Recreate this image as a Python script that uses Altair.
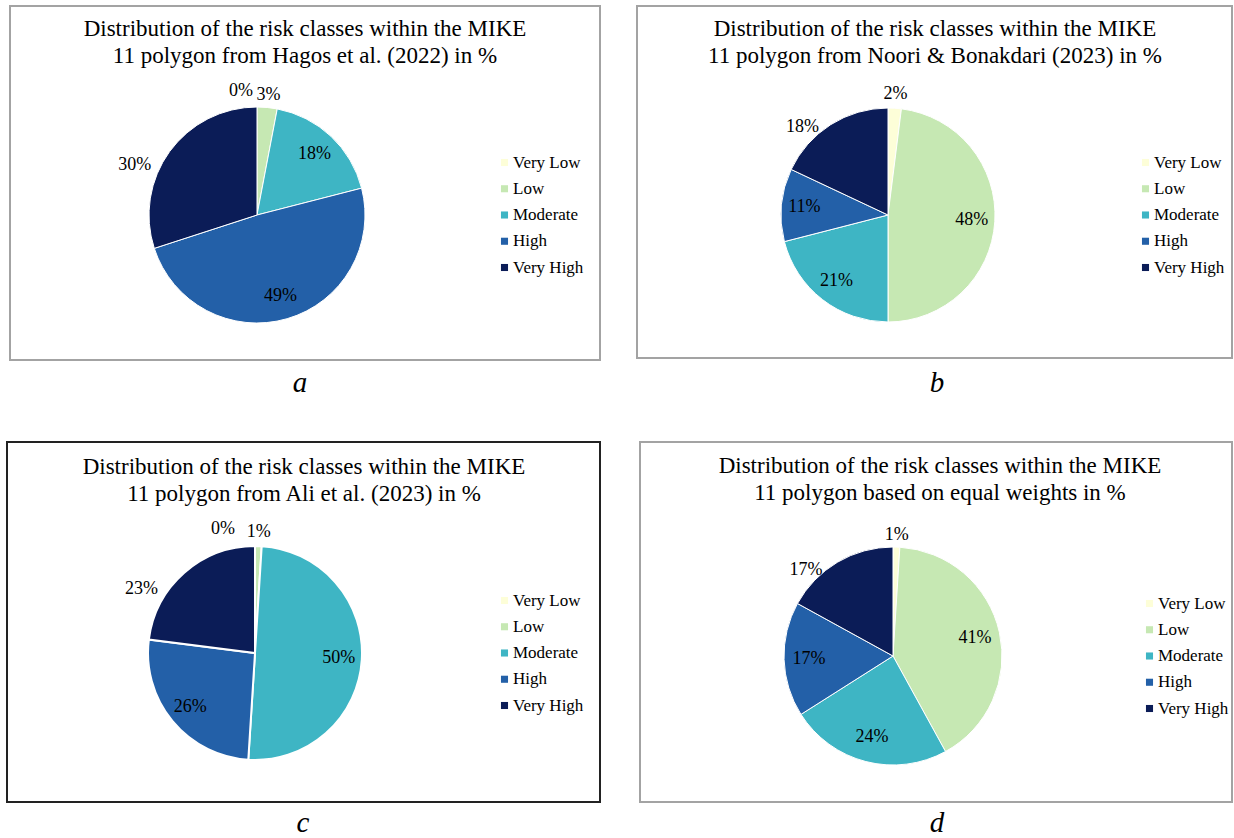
import altair as alt
import pandas as pd

# Risk classes and their fill colours (yellow-green-blue ramp)
CLASSES = ["Very Low", "Low", "Moderate", "High", "Very High"]
COLORS = ["#fdfed8", "#c6e8b3", "#3eb5c4", "#2360a8", "#0b1c57"]

# Share of the MIKE 11 polygon in each risk class, in %
share_hagos = [0, 3, 18, 49, 30]
share_noori = [2, 48, 21, 11, 18]
share_ali = [0, 1, 50, 26, 23]
share_equal = [1, 41, 24, 17, 17]

TITLE_LINE_1 = "Distribution of the risk classes within the MIKE"
subtitle_hagos = "11 polygon from Hagos et al. (2022) in %"
subtitle_noori = "11 polygon from Noori & Bonakdari (2023) in %"
subtitle_ali = "11 polygon from Ali et al. (2023) in %"
subtitle_equal = "11 polygon based on equal weights in %"

letters = ["a", "b", "c", "d"]

CELL_W, CELL_H = 617, 419
SERIF = "Liberation Serif"


def panel(shares, subtitle, letter, lay):
    df = pd.DataFrame({"cls": CLASSES, "share": shares, "rank": list(range(len(CLASSES)))})
    df["label"] = [f"{v}%" for v in shares]
    cx, cy = lay["center"]
    r = lay["radius"]

    base = alt.Chart(df).encode(
        theta=alt.Theta("share:Q", stack=True),
        order=alt.Order("rank:Q"),
        x=alt.value(cx),
        y=alt.value(cy),
    )

    arcs = base.mark_arc(outerRadius=r, stroke="white", strokeWidth=lay["sep"]).encode(
        color=alt.Color(
            "cls:N",
            scale=alt.Scale(domain=CLASSES, range=COLORS),
            legend=alt.Legend(
                orient="none",
                legendX=lay["legend"][0],
                legendY=lay["legend"][1],
                title=None,
                symbolType="square",
                symbolSize=50,
                symbolStrokeWidth=0,
                labelFont=SERIF,
                labelFontSize=17,
                labelColor="black",
                labelOffset=0,
                rowPadding=8.25,
                padding=0,
            ),
        )
    )

    txt_style = dict(font=SERIF, fontSize=18, color="black")

    inside = base.transform_calculate(
        txt="datum.share >= 5 && datum.cls != 'Very High' ? datum.label : ''"
    ).mark_text(radius=84, **txt_style).encode(text="txt:N")

    small = base.transform_calculate(
        txt="datum.share > 0 && datum.share < 5 ? datum.label : ''"
    ).mark_text(radius=121, **txt_style).encode(text="txt:N")

    zero = base.transform_calculate(
        txt="datum.share == 0 ? datum.label : ''"
    ).mark_text(radius=124, align="right", dx=lay["zero_dx"], **txt_style).encode(text="txt:N")

    vh = base.transform_calculate(
        txt="datum.cls == 'Very High' ? datum.label : ''"
    ).mark_text(
        radius=lay["vh"][0], align="right", dx=lay["vh"][1], dy=lay["vh"][2], **txt_style
    ).encode(text="txt:N")

    head = pd.DataFrame({"title": [TITLE_LINE_1 + "\n" + subtitle], "letter": [letter]})
    bx0, by0, bx1, by1 = lay["box"]
    box = alt.Chart(head).mark_rect(
        fill="white", stroke=lay["box_color"], strokeWidth=lay["box_width"]
    ).encode(x=alt.value(bx0), x2=alt.value(bx1), y=alt.value(by0), y2=alt.value(by1))

    title = alt.Chart(head).mark_text(
        font=SERIF, fontSize=23, lineBreak="\n", lineHeight=27, baseline="top",
        align="center", color="black",
    ).encode(x=alt.value(lay["title"][0]), y=alt.value(lay["title"][1]), text="title:N")

    caption = alt.Chart(head).mark_text(
        font=SERIF, fontSize=29, fontStyle="italic", color="black", baseline="middle"
    ).encode(x=alt.value(lay["caption"][0]), y=alt.value(lay["caption"][1]), text="letter:N")

    return alt.layer(box, arcs, inside, small, zero, vh, title, caption).properties(
        width=CELL_W, height=CELL_H
    )


lay_a = dict(box=(10, 6, 600, 360), box_color="#a3a3a3", box_width=2, center=(257, 215),
             radius=108, sep=1, legend=(496, 154), title=(305, 18), caption=(300, 383),
             zero_dx=-4, vh=(116, -12, 18))
lay_b = dict(box=(20, 6, 615, 358), box_color="#a3a3a3", box_width=2, center=(271, 215),
             radius=107, sep=1, legend=(520, 154), title=(318, 18), caption=(320, 383),
             zero_dx=-4, vh=(112, -9, 7))
lay_c = dict(box=(7, 23, 600, 383), box_color="#222222", box_width=2, center=(255, 234),
             radius=107, sep=2, legend=(496, 173), title=(304, 37), caption=(303, 404),
             zero_dx=-20, vh=(115, -21, 22))
lay_d = dict(box=(23, 23, 615, 383), box_color="#a3a3a3", box_width=2, center=(276, 237),
             radius=109, sep=1, legend=(524, 176), title=(323, 36), caption=(320, 404),
             zero_dx=-4, vh=(111, -14, 10))

pa = panel(share_hagos, subtitle_hagos, letters[0], lay_a)
pb = panel(share_noori, subtitle_noori, letters[1], lay_b)
pc = panel(share_ali, subtitle_ali, letters[2], lay_c)
pd_ = panel(share_equal, subtitle_equal, letters[3], lay_d)

top = alt.hconcat(pa, pb, spacing=0).resolve_scale(color="independent").resolve_legend(color="independent")
bottom = alt.hconcat(pc, pd_, spacing=0).resolve_scale(color="independent").resolve_legend(color="independent")

chart = (
    alt.vconcat(top, bottom, spacing=0)
    .resolve_scale(color="independent")
    .resolve_legend(color="independent")
    .properties(padding=0, background="white")
    .configure_view(strokeWidth=0)
)

chart.save("out.html", embed_options={"renderer": "svg", "actions": False})
